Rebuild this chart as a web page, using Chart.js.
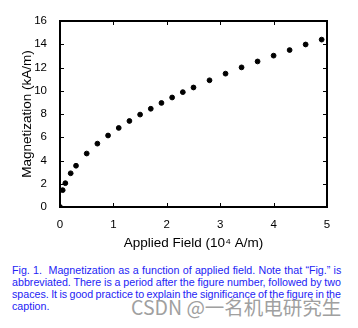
<!DOCTYPE html>
<html>
<head>
<meta charset="utf-8">
<script src="https://cdn.jsdelivr.net/npm/chart.js@4/dist/chart.umd.min.js"></script>
<style>
  html, body { margin: 0; padding: 0; background: #fff; }
  #wrap { position: relative; width: 358px; height: 328px; overflow: hidden; }
  #plot { position: absolute; left: 0; top: 0; }
  #caption {
    position: absolute; left: 12px; top: 264px; width: 329px;
    font-family: "Liberation Sans", Arial, sans-serif; font-size: 10.7px;
    line-height: 12.1px; color: #2424f5;
  }
  #caption span { display: block; white-space: nowrap; }
  #mark {
    position: absolute; left: 131px; top: 295px;
    font-family: "Noto Sans CJK SC", sans-serif; font-size: 19.5px; line-height: 24px;
    color: #a0a0a0; white-space: nowrap;
  }
</style>
</head>
<body>
<div id="wrap">
  <canvas id="plot" width="358" height="255"></canvas>
  <div id="caption">
    <span class="fit">Fig. 1.&nbsp; Magnetization as a function of applied field. Note that “Fig.” is</span>
    <span class="fit">abbreviated. There is a period after the figure number, followed by two</span>
    <span class="fit">spaces. It is good practice to explain the significance of the figure in the</span>
    <span>caption.</span>
  </div>
  <div id="mark">CSDN @一名机电研究生</div>
</div>
<script>
"use strict";
const fieldValues = [0, 0.05, 0.1, 0.2, 0.3, 0.5, 0.7, 0.9, 1.1, 1.3, 1.5, 1.7, 1.9, 2.1, 2.3, 2.5, 2.8, 3.1, 3.4, 3.7, 4.0, 4.3, 4.6, 4.9];
const magnetization = [0, 1.45, 2.05, 2.9, 3.55, 4.6, 5.45, 6.15, 6.8, 7.4, 7.95, 8.45, 8.95, 9.42, 9.88, 10.28, 10.9, 11.47, 12.01, 12.52, 13.02, 13.5, 13.98, 14.4];
const xTicks = [0, 1, 2, 3, 4, 5];
const yTicks = [0, 2, 4, 6, 8, 10, 12, 14, 16];

const tickFont = { family: '"Liberation Sans", Arial, sans-serif', size: 11.5 };
const titleFont = { family: '"Liberation Sans", Arial, sans-serif', size: 13.5 };

// stretch caption lines to the full width (justified look)
document.querySelectorAll('#caption .fit').forEach(line => {
    line.style.display = 'inline-block';
    const w = line.getBoundingClientRect().width;
    const gaps = (line.textContent.match(/ /g) || []).length;
    if (gaps) line.style.wordSpacing = ((329 - w) / gaps) + 'px';
    line.style.display = 'block';
});

// frame and inward tick marks on all four sides
const framePlugin = {
    id: 'frame',
    afterDraw(chart) {
        const { ctx, chartArea: a, scales } = chart;
        ctx.save();
        ctx.strokeStyle = '#000';
        ctx.lineWidth = 1;
        ctx.beginPath();
        xTicks.slice(1, -1).forEach(v => {
            const px = Math.round(scales.x.getPixelForValue(v)) + 0.5;
            ctx.moveTo(px, a.bottom); ctx.lineTo(px, a.bottom - 4);
            ctx.moveTo(px, a.top); ctx.lineTo(px, a.top + 4);
        });
        yTicks.slice(1, -1).forEach(v => {
            const py = Math.round(scales.y.getPixelForValue(v)) + 0.5;
            ctx.moveTo(a.left, py); ctx.lineTo(a.left + 4, py);
            ctx.moveTo(a.right, py); ctx.lineTo(a.right - 4, py);
        });
        ctx.stroke();
        ctx.lineWidth = 2;
        ctx.strokeRect(a.left, a.top, a.right - a.left, a.bottom - a.top);
        ctx.restore();
    }
};

const chart = new Chart(document.getElementById('plot').getContext('2d'), {
    type: 'scatter',
    data: {
        datasets: [{
            data: fieldValues.map((x, i) => ({ x: x, y: magnetization[i] })),
            backgroundColor: '#000',
            borderColor: '#000',
            pointRadius: 2.4,
            pointHoverRadius: 2.4,
        }],
    },
    options: {
        responsive: false,
        animation: false,
        events: [],
        layout: { padding: { left: 19, right: 31, top: 21, bottom: 0 } },
        plugins: { legend: { display: false }, tooltip: { enabled: false } },
        scales: {
            x: {
                type: 'linear', min: 0, max: 5,
                afterBuildTicks: s => { s.ticks = xTicks.map(v => ({ value: v })); },
                afterFit: s => { s.height = 48; },
                grid: { display: false },
                border: { display: false },
                ticks: { color: '#000', font: tickFont, padding: 3, maxRotation: 0 },
                title: { display: true, text: 'Applied Field (10⁴ A/m)', color: '#000', font: titleFont, padding: { top: 0, bottom: 4 } },
            },
            y: {
                type: 'linear', min: 0, max: 16,
                afterBuildTicks: s => { s.ticks = yTicks.map(v => ({ value: v })); },
                afterFit: s => { s.width = 41; },
                grid: { display: false },
                border: { display: false },
                ticks: { color: '#000', font: tickFont, padding: 5 },
                title: { display: true, text: 'Magnetization (kA/m)', color: '#000', font: titleFont, padding: { top: 0, bottom: 0 } },
            },
        },
    },
    plugins: [framePlugin],
});
</script>
</body>
</html>
